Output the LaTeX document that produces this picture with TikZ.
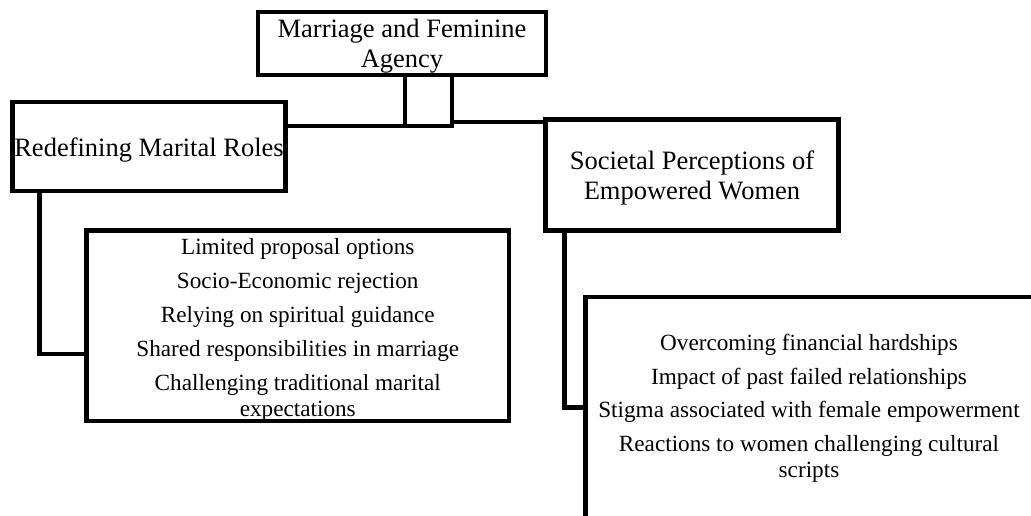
\documentclass[tikz,border=0pt]{standalone}
\usepackage{fontspec}
\setmainfont{Liberation Serif}
\newcommand{\mystrut}[1]{\rule{0pt}{#1}}
\begin{document}
\begin{tikzpicture}[x=1pt,y=-1pt,
  box/.style={draw,line width=4.5pt,inner sep=0pt,align=center,font=\fontsize{26.5}{30}\selectfont},
  listbox/.style={draw,line width=4.5pt,inner sep=0pt,align=center,font=\fontsize{23.2}{26}\selectfont},
  listtext/.style={inner sep=0pt,align=center,font=\fontsize{23.2}{26.5}\selectfont},
  link/.style={line width=4.5pt}]
\clip (0,0) rectangle (1031,515);
\fill[white] (0,0) rectangle (1031,515);
% nodes
\node[box,minimum width=288pt,minimum height=63pt] (top) at (402,43.5) {\mystrut{23pt}Marriage and Feminine\\Agency};
\node[box,minimum width=273pt,minimum height=89pt] (redef) at (149,146.5) {\mystrut{26pt}Redefining Marital Roles};
\node[box,minimum width=293pt,minimum height=111pt] (soc) at (692,175) {\mystrut{24pt}Societal Perceptions of\\Empowered Women};
\node[listbox,minimum width=422.5pt,minimum height=188.5pt] (list1) at (297.75,325.75)
  {\mystrut{24pt}Limited proposal options\\[8pt]Socio-Economic rejection\\[8pt]Relying on spiritual guidance\\[8pt]Shared responsibilities in marriage\\[8pt]Challenging traditional marital\\expectations};
\node[draw,line width=4.5pt,inner sep=0pt,anchor=north west,minimum width=490pt,minimum height=260pt] (list2) at (583,294.5) {};
\node[listtext] (list2txt) at (809,408.5)
  {Overcoming financial hardships\\[7pt]Impact of past failed relationships\\[7pt]Stigma associated with female empowerment\\[7pt]Reactions to women challenging cultural\\scripts};
% junction points
\coordinate (ja) at (405,126);
\coordinate (jb) at (452,122);
\coordinate (jc) at (39.5,354);
\coordinate (jd) at (564.5,407.5);
% connectors
\draw[link] (top.south -| ja) -- (ja);
\draw[link,line cap=rect] (redef.east |- ja) -- (ja -| jb);
\draw[link] (top.south -| jb) -- (jb) -- (jb -| soc.west);
\draw[link] (redef.south -| jc) -- (jc) -- (jc -| list1.west);
\draw[link] (soc.south -| jd) -- (jd) -- (jd -| list2.west);
\end{tikzpicture}
\end{document}
